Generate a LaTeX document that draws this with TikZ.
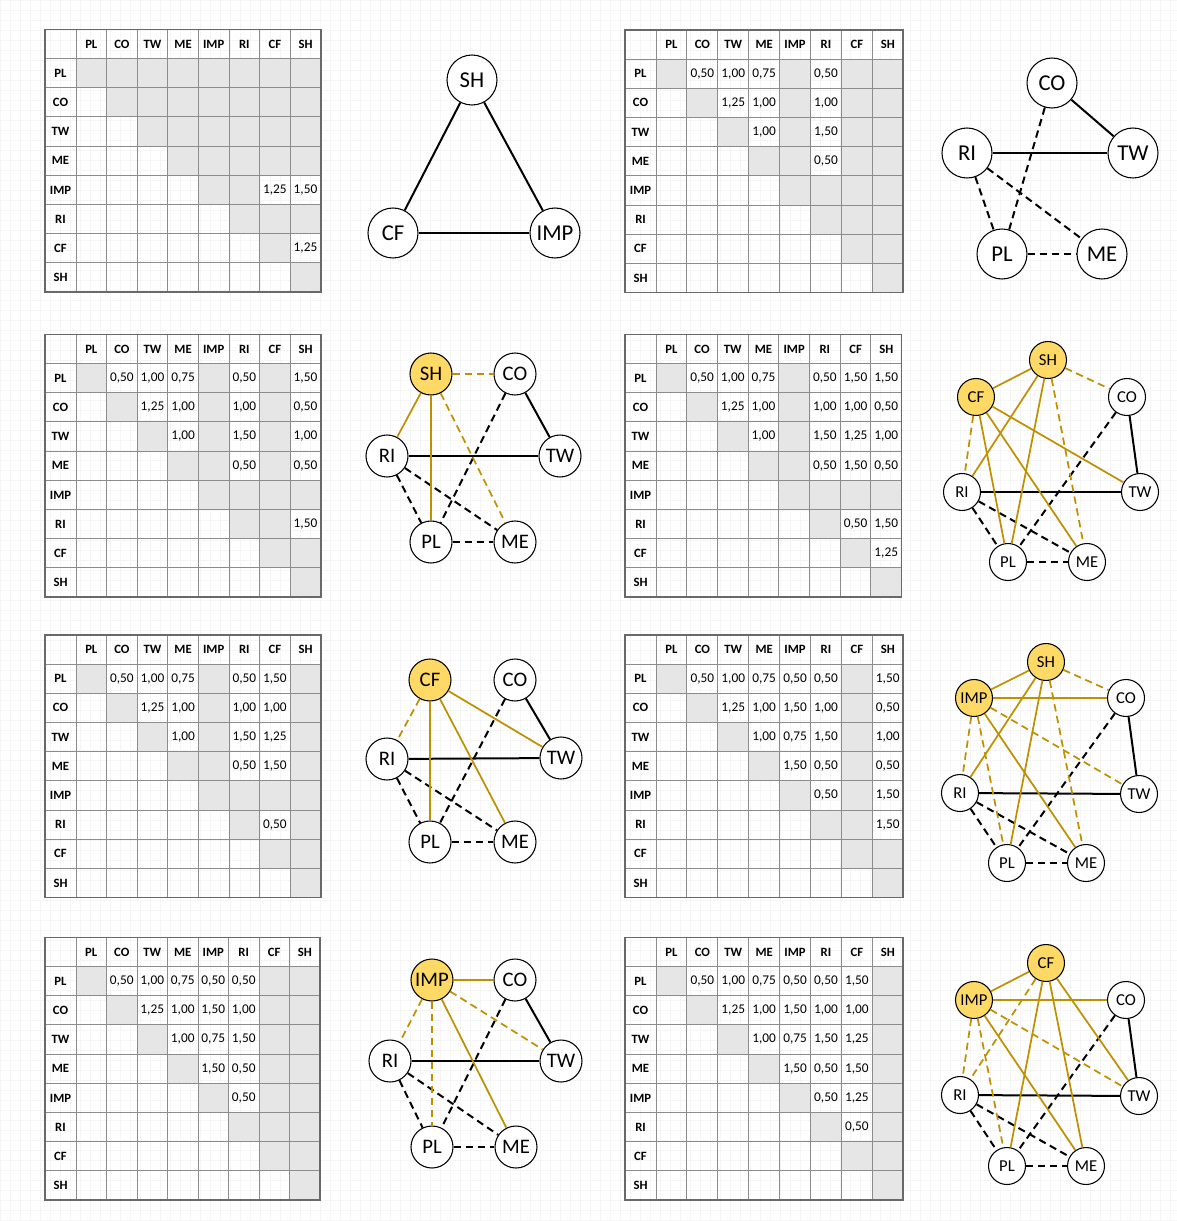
\documentclass[tikz,border=0pt]{standalone}
\usepackage{fontspec}
\setmainfont{Carlito}

\definecolor{cellgray}{RGB}{231,230,230}
\definecolor{rulegray}{RGB}{140,140,140}
\definecolor{framegray}{RGB}{105,105,105}
\definecolor{nodegold}{RGB}{255,217,102}
\definecolor{edgegold}{RGB}{191,144,0}

% pairwise values, index order PL CO TW ME IMP RI CF SH
\def\setv#1#2#3{\expandafter\def\csname v#1#2\endcsname{#3}}
\setv12{0,50}\setv13{1,00}\setv14{0,75}\setv15{0,50}\setv16{0,50}\setv17{1,50}\setv18{1,50}
\setv23{1,25}\setv24{1,00}\setv25{1,50}\setv26{1,00}\setv27{1,00}\setv28{0,50}
\setv34{1,00}\setv35{0,75}\setv36{1,50}\setv37{1,25}\setv38{1,00}
\setv45{1,50}\setv46{0,50}\setv47{1,50}\setv48{0,50}
\setv56{0,50}\setv57{1,25}\setv58{1,50}
\setv67{0,50}\setv68{1,50}
\setv78{1,25}

\tikzset{
    hdr/.style={font=\fontsize{9.5pt}{11pt}\selectfont\bfseries, inner sep=0pt},
    num/.style={font=\fontsize{10pt}{12pt}\selectfont, inner sep=0pt},
    rule/.style={draw=rulegray, line width=0.75pt},
    frame/.style={draw=framegray, line width=1.2pt},
    canvas/.style={draw=black!4, line width=0.3pt}
}

% #1 tag, #2 x, #3 y, #4 cell width, #5 indices of the parties in play
\newcommand\costtable[5]{%
  \foreach \k in {1,...,8} {\expandafter\xdef\csname in\k\endcsname{0}}
  \foreach \k in {#5} {\expandafter\xdef\csname in\k\endcsname{1}}
  \foreach \i in {1,...,8} {
    \foreach \j in {\i,...,8} {
      \def\shown{0}
      \ifnum\i<\j \ifnum\csname in\i\endcsname\csname in\j\endcsname=11 \def\shown{1}\fi\fi
      \ifnum\shown=1
        \node[num] (#1-\i-\j) at ({#2+31+(\j-0.5)*#4}, {#3+29+(\i-0.5)*29.2}) {\csname v\i\j\endcsname};
      \else
        \fill[cellgray] ({#2+31+(\j-1)*#4}, {#3+29+(\i-1)*29.2}) rectangle ++({#4}, 29.2);
      \fi
    }
  }
  \foreach \k in {0,...,7} {
    \draw[rule] ({#2+31+\k*#4}, {#3}) -- ++(0, 262.6);
    \draw[rule] ({#2}, {#3+29+\k*29.2}) -- ++({31+8*#4}, 0);
  }
  \draw[frame] ({#2}, {#3}) rectangle ++({31+8*#4}, 262.6);
  \foreach \n [count=\c] in {PL,CO,TW,ME,IMP,RI,CF,SH} {
    \node[hdr] (#1-col\c) at ({#2+31+(\c-0.5)*#4}, {#3+14.5}) {\n};
    \node[hdr] (#1-row\c) at ({#2+15.5}, {#3+29+(\c-0.5)*29.2}) {\n};
  }
}

\begin{document}
\begin{tikzpicture}[
    x=0.75pt, y=-0.75pt,
    role/.style={circle, draw=black, line width=0.8pt, fill=white, inner sep=0pt},
    bigrole/.style={role, minimum size=37.5pt, font=\fontsize{17pt}{19pt}\selectfont},
    midrole/.style={role, minimum size=31.5pt, font=\fontsize{15.5pt}{17pt}\selectfont},
    smallrole/.style={role, minimum size=27.75pt, font=\fontsize{12.5pt}{14pt}\selectfont},
    hot/.style={fill=nodegold},
    tie/.style={line width=1.5pt, line cap=butt},
    weak/.style={tie, dash pattern=on 5.5pt off 3.5pt},
    goldtie/.style={line width=1.3pt, draw=edgegold},
    goldweak/.style={goldtie, dash pattern=on 5.5pt off 3.5pt}
]
\useasboundingbox (0,0) rectangle (1177,1221);
\fill[white] (0,0) rectangle (1177,1221);

% canvas grid
\foreach \k in {0,10,...,1170} \draw[canvas] (\k,0) -- (\k,1221);
\foreach \k in {0,10,...,1220} \draw[canvas] (0,\k) -- (1177,\k);

% tables
\costtable{t1}{45}{29.5}{30.6}{5,7,8}
\costtable{t2}{625}{30}{30.9}{1,2,3,4,6}
\costtable{t3}{45}{334.5}{30.6}{1,2,3,4,6,8}
\costtable{t4}{625}{334.5}{30.7}{1,2,3,4,6,7,8}
\costtable{t5}{45}{635}{30.6}{1,2,3,4,6,7}
\costtable{t6}{625}{635}{30.9}{1,2,3,4,5,6,8}
\costtable{t7}{45}{937.5}{30.5}{1,2,3,4,5,6}
\costtable{t8}{625}{937.5}{30.9}{1,2,3,4,5,6,7}

% panel 1
\node[bigrole] (sh1) at (472,80) {SH};
\node[bigrole] (cf1) at (393,233) {CF};
\node[bigrole] (imp1) at (555,233) {IMP};
\draw[tie] (sh1) -- (cf1);
\draw[tie] (sh1) -- (imp1);
\draw[tie] (cf1) -- (imp1);

% panel 2
\node[bigrole] (co2) at (1052,83) {CO};
\node[bigrole] (ri2) at (967,153) {RI};
\node[bigrole] (tw2) at (1133,153) {TW};
\node[bigrole] (pl2) at (1002,254) {PL};
\node[bigrole] (me2) at (1102,254) {ME};
\draw[tie] (co2) -- (tw2);
\draw[tie] (ri2) -- (tw2);
\draw[weak] (co2) -- (pl2);
\draw[weak] (ri2) -- (pl2);
\draw[weak] (ri2) -- (me2);
\draw[weak] (pl2) -- (me2);

% panel 3
\node[midrole, hot] (sh3) at (431,374) {SH};
\node[midrole] (co3) at (515,374) {CO};
\node[midrole] (ri3) at (387,456) {RI};
\node[midrole] (tw3) at (560,456) {TW};
\node[midrole] (pl3) at (431,542) {PL};
\node[midrole] (me3) at (515,542) {ME};
\draw[tie] (co3) -- (tw3);
\draw[tie] (ri3) -- (tw3);
\draw[weak] (co3) -- (pl3);
\draw[weak] (ri3) -- (pl3);
\draw[weak] (ri3) -- (me3);
\draw[weak] (pl3) -- (me3);
\draw[goldtie] (sh3) -- (ri3);
\draw[goldtie] (sh3) -- (pl3);
\draw[goldweak] (sh3) -- (co3);
\draw[goldweak] (sh3) -- (me3);

% panel 4
\node[smallrole, hot] (sh4) at (1048,360) {SH};
\node[smallrole, hot] (cf4) at (976,397) {CF};
\node[smallrole] (co4) at (1127,397) {CO};
\node[smallrole] (ri4) at (962,492) {RI};
\node[smallrole] (tw4) at (1140,492) {TW};
\node[smallrole] (pl4) at (1008,562) {PL};
\node[smallrole] (me4) at (1087,562) {ME};
\draw[tie] (co4) -- (tw4);
\draw[tie] (ri4) -- (tw4);
\draw[weak] (co4) -- (pl4);
\draw[weak] (ri4) -- (pl4);
\draw[weak] (ri4) -- (me4);
\draw[weak] (pl4) -- (me4);
\draw[goldtie] (cf4) -- (sh4);
\draw[goldtie] (cf4) -- (pl4);
\draw[goldtie] (cf4) -- (tw4);
\draw[goldtie] (cf4) -- (me4);
\draw[goldweak] (cf4) -- (ri4);
\draw[goldtie] (sh4) -- (ri4);
\draw[goldtie] (sh4) -- (pl4);
\draw[goldweak] (sh4) -- (co4);
\draw[goldweak] (sh4) -- (me4);

% panel 5
\node[midrole, hot] (cf5) at (430,680) {CF};
\node[midrole] (co5) at (515,680) {CO};
\node[midrole] (ri5) at (387,759) {RI};
\node[midrole] (tw5) at (561,758) {TW};
\node[midrole] (pl5) at (430,842) {PL};
\node[midrole] (me5) at (515,842) {ME};
\draw[tie] (co5) -- (tw5);
\draw[tie] (ri5) -- (tw5);
\draw[weak] (co5) -- (pl5);
\draw[weak] (ri5) -- (pl5);
\draw[weak] (ri5) -- (me5);
\draw[weak] (pl5) -- (me5);
\draw[goldtie] (cf5) -- (pl5);
\draw[goldtie] (cf5) -- (tw5);
\draw[goldtie] (cf5) -- (me5);
\draw[goldweak] (cf5) -- (ri5);

% panel 6
\node[smallrole, hot] (sh6) at (1046,662) {SH};
\node[smallrole, hot] (imp6) at (974,698) {IMP};
\node[smallrole] (co6) at (1126,698) {CO};
\node[smallrole] (ri6) at (960,793) {RI};
\node[smallrole] (tw6) at (1139,794) {TW};
\node[smallrole] (pl6) at (1007,863) {PL};
\node[smallrole] (me6) at (1086,863) {ME};
\draw[tie] (co6) -- (tw6);
\draw[tie] (ri6) -- (tw6);
\draw[weak] (co6) -- (pl6);
\draw[weak] (ri6) -- (pl6);
\draw[weak] (ri6) -- (me6);
\draw[weak] (pl6) -- (me6);
\draw[goldtie] (imp6) -- (sh6);
\draw[goldtie] (imp6) -- (co6);
\draw[goldtie] (imp6) -- (me6);
\draw[goldweak] (imp6) -- (pl6);
\draw[goldweak] (imp6) -- (tw6);
\draw[goldweak] (imp6) -- (ri6);
\draw[goldtie] (sh6) -- (pl6);
\draw[goldtie] (sh6) -- (ri6);
\draw[goldweak] (sh6) -- (co6);
\draw[goldweak] (sh6) -- (me6);

% panel 7
\node[midrole, hot] (imp7) at (432,980) {IMP};
\node[midrole] (co7) at (515,980) {CO};
\node[midrole] (ri7) at (390,1061) {RI};
\node[midrole] (tw7) at (561,1061) {TW};
\node[midrole] (pl7) at (432,1147) {PL};
\node[midrole] (me7) at (516,1147) {ME};
\draw[tie] (co7) -- (tw7);
\draw[tie] (ri7) -- (tw7);
\draw[weak] (co7) -- (pl7);
\draw[weak] (ri7) -- (pl7);
\draw[weak] (ri7) -- (me7);
\draw[weak] (pl7) -- (me7);
\draw[goldtie] (imp7) -- (co7);
\draw[goldtie] (imp7) -- (me7);
\draw[goldweak] (imp7) -- (pl7);
\draw[goldweak] (imp7) -- (tw7);
\draw[goldweak] (imp7) -- (ri7);

% panel 8
\node[smallrole, hot] (cf8) at (1046,963) {CF};
\node[smallrole, hot] (imp8) at (974,1000) {IMP};
\node[smallrole] (co8) at (1126,1000) {CO};
\node[smallrole] (ri8) at (960,1095) {RI};
\node[smallrole] (tw8) at (1139,1096) {TW};
\node[smallrole] (pl8) at (1007,1166) {PL};
\node[smallrole] (me8) at (1086,1166) {ME};
\draw[tie] (co8) -- (tw8);
\draw[tie] (ri8) -- (tw8);
\draw[weak] (co8) -- (pl8);
\draw[weak] (ri8) -- (pl8);
\draw[weak] (ri8) -- (me8);
\draw[weak] (pl8) -- (me8);
\draw[goldtie] (imp8) -- (cf8);
\draw[goldtie] (imp8) -- (co8);
\draw[goldtie] (imp8) -- (me8);
\draw[goldweak] (imp8) -- (pl8);
\draw[goldweak] (imp8) -- (tw8);
\draw[goldweak] (imp8) -- (ri8);
\draw[goldtie] (cf8) -- (pl8);
\draw[goldtie] (cf8) -- (tw8);
\draw[goldtie] (cf8) -- (me8);
\draw[goldweak] (cf8) -- (ri8);

\end{tikzpicture}
\end{document}
